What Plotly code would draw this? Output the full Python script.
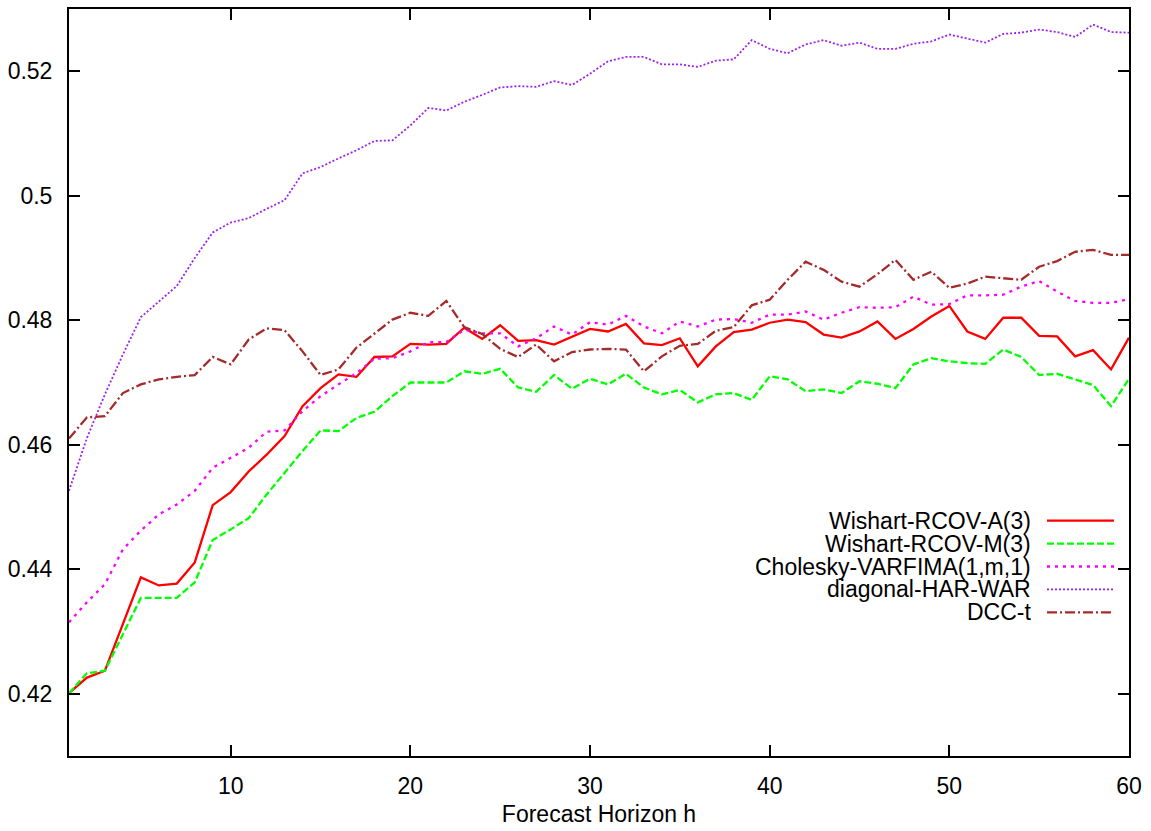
import plotly.graph_objects as go

# ---------------- data ----------------
horizon = list(range(1, 61))

series_names = [
    "Wishart-RCOV-A(3)",
    "Wishart-RCOV-M(3)",
    "Cholesky-VARFIMA(1,m,1)",
    "diagonal-HAR-WAR",
    "DCC-t",
]

wishart_a = [
    0.4201, 0.4226, 0.4237, 0.4312, 0.4387, 0.4374, 0.4377, 0.4411, 0.4503, 0.4524,
    0.4557, 0.4584, 0.4614, 0.4662, 0.4691, 0.4713, 0.4709, 0.4741, 0.4742, 0.4762,
    0.4761, 0.4762, 0.4788, 0.4770, 0.4792, 0.4767, 0.4768, 0.4761, 0.4774, 0.4786,
    0.4782, 0.4794, 0.4763, 0.4760, 0.4771, 0.4726, 0.4758, 0.4781, 0.4785, 0.4796,
    0.4801, 0.4797, 0.4777, 0.4772, 0.4782, 0.4798, 0.4770, 0.4786, 0.4806, 0.4823,
    0.4782, 0.4770, 0.4804, 0.4804, 0.4775, 0.4774, 0.4742, 0.4752, 0.4721, 0.4772,
]

wishart_m = [
    0.4201, 0.4233, 0.4237, 0.4296, 0.4354, 0.4354, 0.4354, 0.4379, 0.4447, 0.4464,
    0.4482, 0.4520, 0.4555, 0.4590, 0.4623, 0.4622, 0.4643, 0.4653, 0.4678, 0.4700,
    0.4700, 0.4700, 0.4718, 0.4714, 0.4722, 0.4692, 0.4685, 0.4712, 0.4690, 0.4706,
    0.4697, 0.4714, 0.4692, 0.4681, 0.4688, 0.4668, 0.4681, 0.4683, 0.4672, 0.4710,
    0.4705, 0.4686, 0.4689, 0.4683, 0.4702, 0.4698, 0.4691, 0.4729, 0.4739, 0.4734,
    0.4731, 0.4730, 0.4753, 0.4741, 0.4712, 0.4714, 0.4705, 0.4696, 0.4662, 0.4706,
]

cholesky = [
    0.4315, 0.4347, 0.4376, 0.4432, 0.4462, 0.4488, 0.4504, 0.4526, 0.4563, 0.4579,
    0.4595, 0.4621, 0.4623, 0.4654, 0.4678, 0.4697, 0.4715, 0.4738, 0.4739, 0.4750,
    0.4765, 0.4765, 0.4785, 0.4779, 0.4779, 0.4758, 0.4771, 0.4790, 0.4777, 0.4797,
    0.4793, 0.4807, 0.4790, 0.4779, 0.4798, 0.4790, 0.4801, 0.4802, 0.4796, 0.4809,
    0.4809, 0.4814, 0.4801, 0.4812, 0.4821, 0.4820, 0.4821, 0.4838, 0.4825, 0.4826,
    0.4840, 0.4840, 0.4841, 0.4854, 0.4863, 0.4846, 0.4831, 0.4828, 0.4828, 0.4834,
]

har_war = [
    0.4526, 0.4611, 0.4681, 0.4745, 0.4805, 0.4830, 0.4855, 0.4900, 0.4941, 0.4957,
    0.4964, 0.4979, 0.4993, 0.5036, 0.5046, 0.5060, 0.5073, 0.5088, 0.5089, 0.5113,
    0.5141, 0.5137, 0.5151, 0.5162, 0.5174, 0.5176, 0.5175, 0.5184, 0.5178, 0.5196,
    0.5216, 0.5223, 0.5223, 0.5211, 0.5211, 0.5207, 0.5217, 0.5219, 0.5250, 0.5236,
    0.5229, 0.5243, 0.5250, 0.5241, 0.5246, 0.5236, 0.5236, 0.5244, 0.5248, 0.5259,
    0.5252, 0.5246, 0.5260, 0.5262, 0.5267, 0.5263, 0.5255, 0.5275, 0.5263, 0.5262,
]

dcc_t = [
    0.4610, 0.4644, 0.4646, 0.4683, 0.4697, 0.4705, 0.4709, 0.4712, 0.4741, 0.4729,
    0.4769, 0.4787, 0.4784, 0.4750, 0.4712, 0.4721, 0.4756, 0.4778, 0.4801, 0.4812,
    0.4807, 0.4831, 0.4789, 0.4778, 0.4754, 0.4741, 0.4761, 0.4734, 0.4749, 0.4753,
    0.4754, 0.4753, 0.4718, 0.4742, 0.4759, 0.4762, 0.4783, 0.4789, 0.4824, 0.4833,
    0.4865, 0.4894, 0.4881, 0.4862, 0.4854, 0.4874, 0.4897, 0.4865, 0.4878, 0.4852,
    0.4859, 0.4870, 0.4867, 0.4865, 0.4886, 0.4895, 0.4910, 0.4913, 0.4905, 0.4905,
]

x_tick_vals = [10, 20, 30, 40, 50, 60]
y_tick_vals = [0.42, 0.44, 0.46, 0.48, 0.50, 0.52]
y_tick_text = ["0.42", "0.44", "0.46", "0.48", "0.5", "0.52"]

x_title = "Forecast Horizon h"

# ---------------- styles ----------------
all_values = [wishart_a, wishart_m, cholesky, har_war, dcc_t]
colors = ["#FF0000", "#00FF00", "#FF00FF", "#A020F0", "#A52A2A"]
dashes = ["solid", "7px,3px", "3px,5px", "2px,2px", "10px,3px,2px,3px"]
widths = [2.3, 2.3, 2.3, 1.8, 2.3]

FONT = "Liberation Sans, Arial, Helvetica, sans-serif"
FS = 23

W, H = 1151, 831
ML, MR, MT, MB = 69, 22, 7, 75
plot_w = W - ML - MR
plot_h = H - MT - MB

fig = go.Figure()
for name, vals, c, d, w in zip(series_names, all_values, colors, dashes, widths):
    fig.add_trace(go.Scatter(
        x=horizon, y=vals, mode="lines", name=name,
        line=dict(color=c, dash=d, width=w),
        showlegend=False,
    ))

# gnuplot-style key: right-aligned text, sample line on the right
def px_to_paper_x(px):
    return (px - ML) / plot_w

def px_to_paper_y(py):
    return (MT + plot_h - py) / plot_h

key_text_right = 1033
key_line_x0, key_line_x1 = 1047, 1114
key_row0, key_row_step = 520, 23

annotations = []
shapes = []
for i, (name, c, d, w) in enumerate(zip(series_names, colors, dashes, widths)):
    py = key_row0 + i * key_row_step
    annotations.append(dict(
        x=px_to_paper_x(key_text_right), y=px_to_paper_y(py),
        xref="paper", yref="paper", text=name, showarrow=False,
        xanchor="right", yanchor="middle",
        font=dict(family=FONT, size=FS, color="black"),
    ))
    shapes.append(dict(
        type="line", xref="paper", yref="paper",
        x0=px_to_paper_x(key_line_x0), x1=px_to_paper_x(key_line_x1),
        y0=px_to_paper_y(py), y1=px_to_paper_y(py),
        line=dict(color=c, dash=d, width=w),
    ))

axis_common = dict(
    showgrid=False, zeroline=False,
    showline=True, linecolor="black", linewidth=2, mirror="ticks",
    ticks="inside", ticklen=11, tickwidth=1.5, tickcolor="black",
    tickfont=dict(family=FONT, size=FS, color="black"),
)

fig.update_layout(
    width=W, height=H,
    margin=dict(l=ML, r=MR, t=MT, b=MB, pad=0),
    paper_bgcolor="white", plot_bgcolor="white",
    font=dict(family=FONT, size=FS, color="black"),
    xaxis=dict(
        range=[1, 60], tickvals=x_tick_vals,
        title=dict(text=x_title, font=dict(family=FONT, size=FS, color="black"), standoff=8),
        ticklabelstandoff=8,
        **axis_common,
    ),
    yaxis=dict(
        range=[0.41, 0.53], tickvals=y_tick_vals, ticktext=y_tick_text,
        ticklabelstandoff=10,
        **axis_common,
    ),
    annotations=annotations,
    shapes=shapes,
    showlegend=False,
)

fig.write_html("out.html")
